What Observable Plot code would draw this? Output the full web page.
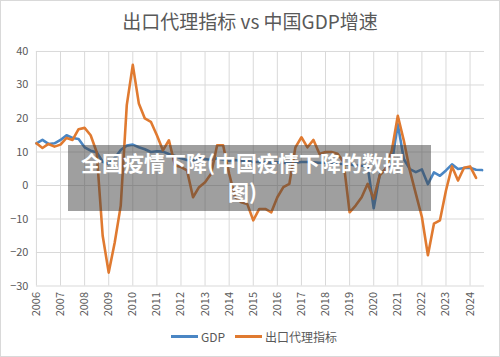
<!DOCTYPE html>
<html><head><meta charset="utf-8">
<script src="https://cdn.jsdelivr.net/npm/d3@7"></script>
<script src="https://cdn.jsdelivr.net/npm/@observablehq/plot@0.6"></script>
<style>
body{margin:0;background:#fff;}
#wrap{position:relative;width:500px;height:357px;box-sizing:border-box;border:1px solid #d9d9d9;background:#fff;font-family:"Noto Sans CJK SC","Noto Sans",sans-serif;overflow:hidden}
#title{position:absolute;left:0;top:7px;width:100%;text-align:center;font-size:19px;color:#595959;line-height:26px}
#chart{position:absolute;left:-1px;top:39px;}
#legend{position:absolute;top:327px;left:0;width:100%;display:flex;justify-content:center;align-items:center;font-size:12px;color:#595959;gap:10px;padding-left:8px;box-sizing:border-box}
#legend .item{display:flex;align-items:center;gap:3px}
#legend .sw{display:inline-block;width:27px;height:3px}
#overlay{position:absolute;left:67px;top:144px;width:363px;height:66px;background:rgba(64,64,64,0.5);color:#fff;font-weight:bold;font-size:21px;text-align:center;line-height:29px;padding-top:3px;padding-right:14px;box-sizing:border-box}
</style></head>
<body>
<div id="wrap">
  <div id="title">出口代理指标 vs 中国GDP增速</div>
  <div id="chart"></div>
  <div id="legend"></div>
  <div id="overlay">全国疫情下降(中国疫情下降的数据<br>图)</div>
</div>
<script>
// quarterly series, first point = 2006 Q1
const startYear = 2006;
const seriesNames = ["GDP", "出口代理指标"];
const seriesColors = ["#4a86c4", "#e07a30"];
const gdp = [
  12.6, 13.6, 12.4, 12.6,
  13.6, 15.0, 14.2, 13.9,
  11.4, 10.4, 9.9, 7.1,
  6.4, 8.2, 10.6, 11.9,
  12.2, 11.4, 10.8, 10.0,
  10.2, 10.1, 9.4, 8.8,
  8.1, 7.6, 7.5, 8.1,
  7.9, 7.6, 8.1, 7.8,
  7.4, 7.6, 7.3, 7.3,
  7.0, 7.0, 6.9, 6.8,
  6.9, 6.7, 6.8, 6.8,
  7.0, 7.0, 6.9, 6.8,
  6.8, 6.7, 6.5, 6.4,
  6.3, 6.0, 5.9, 5.8,
  -6.8, 3.2, 4.9, 6.5,
  18.3, 7.9, 4.9, 4.0,
  4.8, 0.4, 3.9, 2.9,
  4.5, 6.3, 4.9, 5.2,
  5.3, 4.7, 4.6
];
const exportProxy = [
  12.6, 11.2, 12.4, 11.6,
  12.2, 14.2, 13.6, 16.8,
  17.2, 15.0, 10.0, -15.0,
  -26.0, -17.0, -6.0, 24.0,
  36.0, 24.5, 20.0, 19.0,
  15.0, 10.5, 13.5, 6.0,
  5.5, 4.5, -3.5, -0.5,
  1.0, 3.5, 12.0, 12.0,
  3.5, -3.5, -5.0, -5.5,
  -10.4, -7.0, -7.0, -8.0,
  -3.5, -0.5, 0.5, 11.4,
  14.4, 11.4, 13.6, 9.4,
  10.0, 10.0, 9.5, 7.0,
  -8.0, -6.0, -3.5, 0.5,
  -4.0, 3.0, 5.0, 10.4,
  20.8, 13.4, 4.5, -2.5,
  -9.4, -20.8, -11.4, -10.4,
  -1.5, 5.7, 1.5, 5.3,
  5.7, 2.3
];
const yearTicks = [2006,2007,2008,2009,2010,2011,2012,2013,2014,2015,2016,2017,2018,2019,2020,2021,2022,2023,2024];
const valueTicks = [-30,-20,-10,0,10,20,30,40];

const rows = [];
[gdp, exportProxy].forEach((arr, s) => arr.forEach((v, i) => rows.push({t: startYear + i / 4, v, s: seriesNames[s]})));

const chart = Plot.plot({
  width: 500, height: 286,
  marginTop: 11, marginBottom: 40, marginLeft: 36, marginRight: 15,
  style: {fontFamily: '"Noto Sans CJK SC","Noto Sans",sans-serif', fontSize: "11px", color: "#595959", background: "transparent"},
  x: {domain: [2006, 2024.6]},
  y: {domain: [-30, 40]},
  color: {domain: seriesNames, range: seriesColors},
  marks: [
    Plot.gridX(yearTicks, {stroke: "#d9d9d9", strokeOpacity: 1, strokeWidth: 1}),
    Plot.gridY(valueTicks, {stroke: "#d9d9d9", strokeOpacity: 1, strokeWidth: 1}),
    Plot.axisY(valueTicks, {tickSize: 0, tickPadding: 8, label: null}),
    Plot.axisX(yearTicks, {tickSize: 0, tickPadding: 6, tickRotate: -90, tickFormat: d => String(d), label: null}),
    Plot.line(rows.filter(r => r.s === seriesNames[0]), {x: "t", y: "v", stroke: "s", strokeWidth: 2.6}),
    Plot.line(rows.filter(r => r.s === seriesNames[1]), {x: "t", y: "v", stroke: "s", strokeWidth: 2.6})
  ]
});
document.getElementById("chart").appendChild(chart);

const legend = document.getElementById("legend");
seriesNames.forEach((n, i) => {
  const it = document.createElement("div");
  it.className = "item";
  const sw = document.createElement("span");
  sw.className = "sw";
  sw.style.background = seriesColors[i];
  const tx = document.createElement("span");
  tx.textContent = n;
  it.appendChild(sw); it.appendChild(tx);
  legend.appendChild(it);
});
</script>
</body></html>
